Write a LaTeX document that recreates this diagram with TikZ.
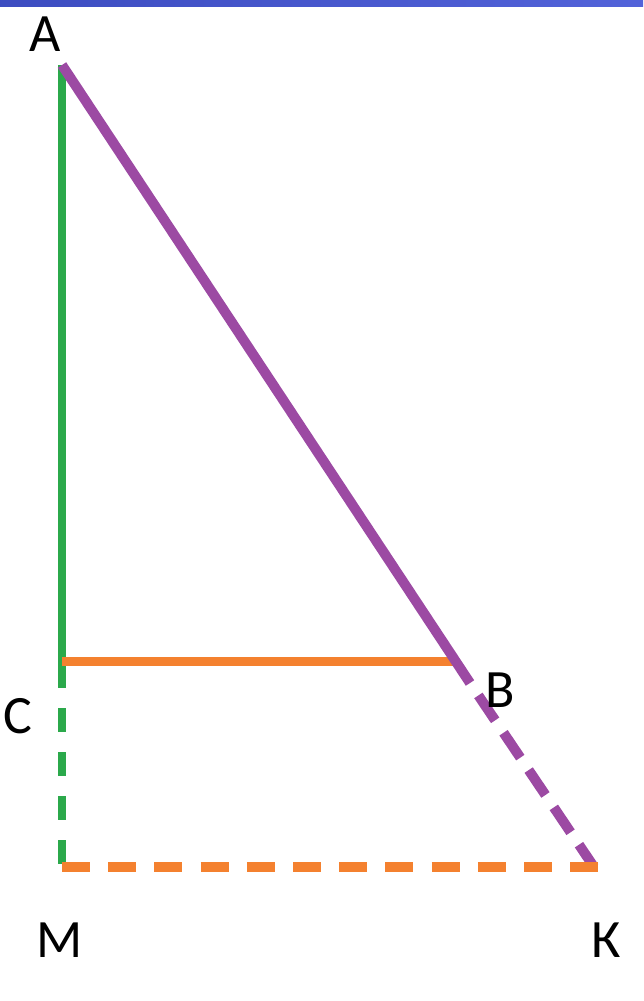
\documentclass[tikz,border=0pt]{standalone}
\usepackage{fontspec}
\setmainfont{Carlito}
\usetikzlibrary{positioning}
\definecolor{segGreen}{HTML}{2BA94B}
\definecolor{segOrange}{HTML}{F4812F}
\definecolor{segPurple}{HTML}{9C4AA3}
\definecolor{barBlue}{HTML}{4355D6}

\begin{document}
\begin{tikzpicture}[
  x=1pt, y=-1pt,
  lbl/.style={font=\fontsize{54}{54}\selectfont, inner sep=0pt},
  greenline/.style={segGreen, line width=8pt},
  orangeline/.style={segOrange, line width=9pt},
  purpleline/.style={segPurple, line width=10pt},
  gdash/.style={dash pattern=on 24pt off 20pt, dash phase=24pt},
  pdash/.style={dash pattern=on 30pt off 15pt, dash phase=30pt},
  odash/.style={dash pattern=on 28pt off 18.2pt},
]
  \useasboundingbox (0,0) rectangle (643,1001);
  \shade[left color=barBlue!90!black, right color=barBlue!92!white] (0,0) rectangle (643,6);

  % Points
  \coordinate (A) at (62,65);
  \coordinate (C) at (62,688);
  \coordinate (H) at (62,661);
  \coordinate (B) at (456,661);
  \coordinate (P) at (470,683);
  \coordinate (M) at (62,867);
  \coordinate (K) at (594,867);
  \coordinate (Kend) at (598,867);

  % Solid sides
  \draw[greenline] (A) -- (C);
  \draw[orangeline] (H) -- (B);
  \draw[purpleline] (A) -- (P);

  % Dashed extensions
  \draw[greenline, gdash] (C) -- (M);
  \draw[purpleline, pdash] (P) -- (K);
  \draw[orangeline, line width=10pt, odash] (M) -- (Kend);

  % Labels
  \node[lbl] (labA) at (45,34) {A};
  \node[lbl] (labC) at (18,716) {C};
  \node[lbl] (labB) at (500,690) {B};
  \node[lbl] (labM) at (60,940) {M};
  \node[lbl] (labK) at (606,940) {К};
\end{tikzpicture}
\end{document}
